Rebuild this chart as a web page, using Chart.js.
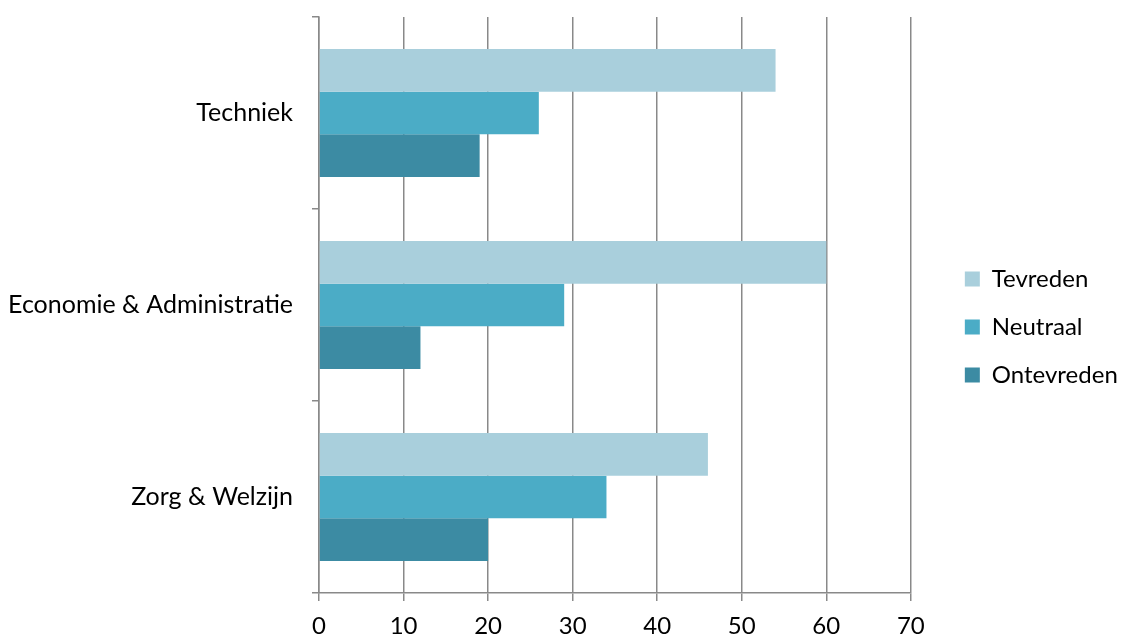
<!DOCTYPE html>
<html>
<head>
<meta charset="utf-8">
<script src="https://cdn.jsdelivr.net/npm/chart.js@4.4.1/dist/chart.umd.min.js"></script>
<style>
  html, body { margin: 0; padding: 0; background: #ffffff; }
  #wrap { width: 1121px; height: 637px; }
</style>
</head>
<body>
<div id="wrap"><canvas id="chart"></canvas></div>
<script>
var categories = ['Techniek', 'Economie & Administratie', 'Zorg & Welzijn'];
var seriesNames = ['Tevreden', 'Neutraal', 'Ontevreden'];
var tevreden = [54, 60, 46];
var neutraal = [26, 29, 34];
var ontevreden = [19, 12, 20];
var xTicks = [0, 10, 20, 30, 40, 50, 60, 70];

var colors = ['#a9cfdc', '#4bacc6', '#3c8ba3'];
var gridColor = '#898989';
var fontFamily = 'Lato, "Open Sans", sans-serif';

var ctx = document.getElementById('chart');
var chart = new Chart(ctx, {
    type: 'bar',
    data: {
        labels: categories,
        datasets: [
            { label: seriesNames[0], data: tevreden, backgroundColor: colors[0] },
            { label: seriesNames[1], data: neutraal, backgroundColor: colors[1] },
            { label: seriesNames[2], data: ontevreden, backgroundColor: colors[2] }
        ]
    },
    options: {
        indexAxis: 'y',
        responsive: true,
        maintainAspectRatio: false,
        animation: false,
        devicePixelRatio: 1,
        categoryPercentage: 0.667,
        barPercentage: 1.0,
        layout: { padding: { left: 10, top: 17, right: -6, bottom: 0 } },
        plugins: {
            tooltip: { enabled: false },
            legend: {
                position: 'right',
                align: 'center',
                labels: {
                    boxWidth: 15,
                    boxHeight: 15,
                    padding: 24,
                    color: '#000000',
                    font: { family: fontFamily, size: 24, lineHeight: 1.2 }
                }
            }
        },
        scales: {
            x: {
                min: 0,
                max: 70,
                afterBuildTicks: function (scale) {
                    scale.ticks = xTicks.map(function (v) { return { value: v }; });
                },
                afterFit: function (scale) { scale.height = 44; },
                border: { display: true, color: gridColor, width: 1.5 },
                grid: {
                    color: gridColor,
                    lineWidth: 1.5,
                    drawTicks: true,
                    tickLength: 8,
                    tickColor: gridColor
                },
                ticks: {
                    color: '#000000',
                    padding: 11,
                    font: { family: fontFamily, size: 24 }
                }
            },
            y: {
                afterFit: function (scale) {
                    scale.width = 309;
                    scale.paddingTop = 0;
                    scale.paddingBottom = 0;
                },
                border: { display: true, color: gridColor, width: 1.5 },
                grid: {
                    drawOnChartArea: false,
                    drawTicks: true,
                    tickLength: 7,
                    color: gridColor,
                    lineWidth: 1.5
                },
                ticks: {
                    color: '#000000',
                    padding: 19,
                    font: { family: fontFamily, size: 25 }
                }
            },
            // empty axis on the right, only keeps a gap before the legend
            gap: {
                axis: 'y',
                type: 'category',
                position: 'right',
                afterFit: function (scale) {
                    scale.width = 30;
                    scale.paddingTop = 0;
                    scale.paddingBottom = 0;
                },
                border: { display: false },
                grid: { display: false },
                ticks: { display: false }
            }
        }
    }
});
</script>
</body>
</html>
